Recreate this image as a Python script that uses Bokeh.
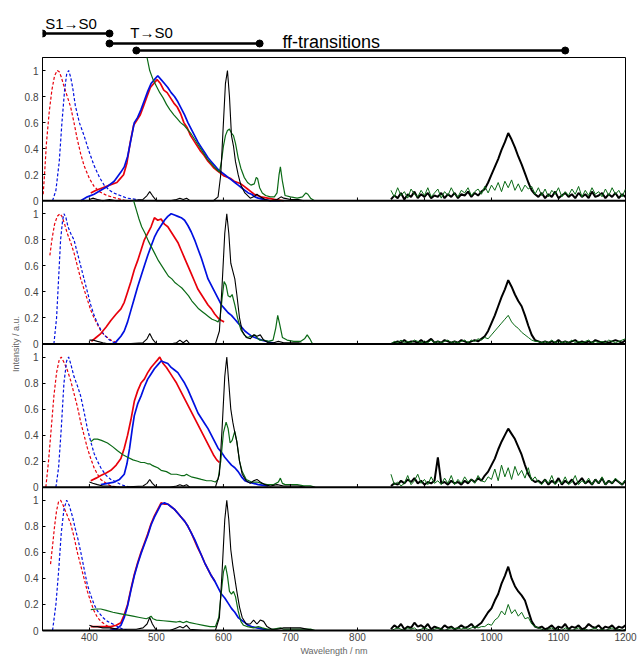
from bokeh.plotting import figure
from bokeh.layouts import column
from bokeh.models import Range1d, FixedTicker
from bokeh.embed import file_html
from bokeh.resources import INLINE

# ---------------- data ----------------
x_ticks = [400, 500, 600, 700, 800, 900, 1000, 1100, 1200]
y_tick_vals = [0, 0.2, 0.4, 0.6, 0.8, 1.0]
y_tick_labels = ["0", "0.2", "0.4", "0.6", "0.8", "1"]

# Panel 1 (top)
p1_rexc_x = [331, 333, 336, 340, 344, 348, 352, 355, 358, 362, 367, 372, 377, 382, 387, 392, 400, 407, 415, 426, 440, 455]
p1_rexc_y = [0.05, 0.2, 0.45, 0.68, 0.85, 0.96, 1.0, 0.99, 0.95, 0.88, 0.8, 0.72, 0.6, 0.47, 0.36, 0.27, 0.17, 0.11, 0.07, 0.04, 0.02, 0.0]
p1_bexc_x = [345, 350, 355, 359, 363, 366, 369, 372, 375, 379, 385, 392, 400, 407, 415, 422, 430, 436, 446, 456, 470, 480]
p1_bexc_y = [0.0, 0.08, 0.3, 0.6, 0.85, 0.97, 1.0, 0.95, 0.87, 0.73, 0.6, 0.5, 0.37, 0.27, 0.18, 0.12, 0.08, 0.06, 0.04, 0.02, 0.01, 0.0]
p1_rem_x = [402, 410, 420, 430, 441, 446, 451, 456, 461, 466, 471, 476, 481, 486, 491, 496, 501, 506, 511, 516, 521, 526, 531, 536, 541, 546, 551, 556, 561, 566, 571, 576, 581, 586, 591, 596, 601, 606, 611, 616, 621, 626, 631, 636, 641, 646, 651, 656, 666, 676, 690]
p1_rem_y = [0.06, 0.08, 0.1, 0.12, 0.14, 0.17, 0.2, 0.29, 0.45, 0.58, 0.62, 0.66, 0.73, 0.8, 0.87, 0.9, 0.93, 0.9, 0.85, 0.83, 0.79, 0.75, 0.72, 0.67, 0.6, 0.56, 0.5, 0.46, 0.42, 0.38, 0.35, 0.31, 0.28, 0.25, 0.23, 0.21, 0.19, 0.18, 0.17, 0.15, 0.14, 0.13, 0.11, 0.09, 0.07, 0.05, 0.04, 0.03, 0.02, 0.01, 0.0]
p1_bem_x = [387, 397, 407, 417, 427, 437, 447, 452, 457, 462, 467, 472, 477, 482, 487, 492, 497, 502, 507, 512, 517, 522, 527, 532, 537, 542, 547, 552, 557, 562, 567, 572, 577, 582, 587, 592, 597, 602, 607, 612, 617, 622, 627, 632, 637, 642, 647, 652, 660, 670, 685]
p1_bem_y = [0.0, 0.03, 0.05, 0.08, 0.11, 0.15, 0.22, 0.26, 0.34, 0.47, 0.6, 0.64, 0.7, 0.77, 0.84, 0.9, 0.93, 0.96, 0.93, 0.9, 0.87, 0.83, 0.8, 0.76, 0.71, 0.66, 0.6, 0.55, 0.5, 0.45, 0.41, 0.37, 0.33, 0.3, 0.27, 0.24, 0.22, 0.2, 0.18, 0.16, 0.14, 0.12, 0.1, 0.08, 0.06, 0.05, 0.03, 0.02, 0.01, 0.0, 0.0]
p1_grn_x = [486, 490, 495, 500, 505, 510, 515, 520, 526, 531, 536, 541, 546, 551, 556, 561, 566, 571, 576, 581, 586, 590, 594, 597, 600, 603, 606, 609, 612, 615, 618, 622, 626, 631, 636, 641, 646, 649, 651, 654, 658, 663, 670, 676, 680, 683, 685, 688, 692, 700, 710, 718, 723, 726, 730, 736]
p1_grn_y = [1.1, 1.0, 0.93, 0.88, 0.83, 0.79, 0.74, 0.7, 0.66, 0.63, 0.6, 0.58, 0.55, 0.52, 0.48, 0.44, 0.4, 0.36, 0.32, 0.29, 0.26, 0.24, 0.22, 0.3, 0.42, 0.5, 0.54, 0.55, 0.52, 0.5, 0.44, 0.33, 0.25, 0.18, 0.14, 0.12, 0.13, 0.18, 0.17, 0.1, 0.06, 0.04, 0.03, 0.03, 0.06, 0.2, 0.26, 0.15, 0.04, 0.03, 0.02, 0.03, 0.06, 0.05, 0.02, 0.0]
p1_blk_x = [400, 405, 412, 420, 430, 440, 460, 480, 486, 490, 494, 500, 520, 530, 535, 540, 545, 550, 570, 585, 592, 596, 600, 603, 606, 609, 612, 615, 618, 622, 626, 632, 640, 645, 650, 655, 662, 670, 680, 686, 690, 700, 712, 720]
p1_blk_y = [0.01, 0.02, 0.01, 0.0, 0.01, 0.0, 0.0, 0.01, 0.04, 0.07, 0.04, 0.0, 0.0, 0.01, 0.02, 0.01, 0.02, 0.0, 0.0, 0.0, 0.03, 0.2, 0.6, 0.9, 1.0, 0.8, 0.5, 0.42, 0.3, 0.2, 0.12, 0.06, 0.02, 0.03, 0.05, 0.03, 0.01, 0.0, 0.01, 0.03, 0.02, 0.01, 0.01, 0.0]

# Panel 2
p2_rexc_x = [341, 344, 348, 352, 356, 359, 363, 367, 372, 377, 382, 387, 392, 397, 402, 407, 412, 417, 422, 432, 445]
p2_rexc_y = [0.68, 0.8, 0.92, 0.98, 1.0, 0.98, 0.92, 0.85, 0.78, 0.7, 0.6, 0.5, 0.42, 0.34, 0.26, 0.2, 0.15, 0.1, 0.07, 0.03, 0.0]
p2_bexc_x = [347, 351, 354, 357, 360, 362, 365, 368, 372, 377, 382, 387, 392, 397, 402, 407, 412, 417, 422, 430, 437, 445]
p2_bexc_y = [0.0, 0.2, 0.5, 0.8, 0.95, 1.0, 0.97, 0.9, 0.85, 0.8, 0.7, 0.6, 0.5, 0.4, 0.3, 0.22, 0.16, 0.11, 0.07, 0.03, 0.01, 0.0]
p2_rem_x = [403, 410, 417, 425, 432, 440, 447, 452, 457, 462, 467, 472, 477, 482, 487, 492, 497, 502, 507, 512, 517, 522, 527, 532, 537, 542, 547, 552, 557, 562, 567, 572, 577, 582, 587, 592, 597, 601]
p2_rem_y = [0.02, 0.05, 0.08, 0.13, 0.18, 0.23, 0.27, 0.32, 0.4, 0.48, 0.57, 0.64, 0.72, 0.8, 0.85, 0.9, 0.97, 0.95, 0.96, 0.92, 0.9, 0.86, 0.82, 0.78, 0.72, 0.66, 0.6, 0.54, 0.48, 0.42, 0.38, 0.34, 0.3, 0.27, 0.23, 0.2, 0.18, 0.17]
p2_bem_x = [437, 442, 447, 452, 457, 462, 467, 472, 477, 482, 487, 492, 497, 502, 507, 512, 517, 522, 527, 532, 537, 542, 547, 552, 557, 562, 567, 572, 577, 582, 587, 592, 597, 602, 607, 612, 617, 622, 627, 632, 637, 642, 647, 652, 657, 665, 672, 680]
p2_bem_y = [0.0, 0.03, 0.06, 0.1, 0.17, 0.26, 0.35, 0.44, 0.52, 0.6, 0.68, 0.75, 0.82, 0.87, 0.91, 0.95, 0.98, 1.0, 0.99, 0.98, 0.97, 0.95, 0.91, 0.86, 0.8, 0.73, 0.66, 0.58, 0.5, 0.45, 0.4, 0.35, 0.3, 0.27, 0.24, 0.22, 0.19, 0.16, 0.13, 0.1, 0.08, 0.06, 0.05, 0.04, 0.03, 0.02, 0.01, 0.0]
p2_grn_x = [466, 470, 474, 478, 483, 488, 493, 498, 503, 508, 513, 518, 523, 528, 533, 538, 543, 548, 553, 558, 563, 568, 573, 578, 583, 588, 592, 595, 598, 601, 604, 607, 610, 613, 617, 621, 626, 631, 636, 642, 647, 650, 654, 660, 667, 674, 678, 681, 684, 688, 695, 705, 715, 721, 725, 729, 733]
p2_grn_y = [1.1, 1.03, 0.96, 0.9, 0.85, 0.79, 0.74, 0.69, 0.64, 0.6, 0.56, 0.52, 0.5, 0.47, 0.45, 0.43, 0.4, 0.37, 0.33, 0.3, 0.27, 0.25, 0.23, 0.21, 0.19, 0.18, 0.17, 0.2, 0.35, 0.48, 0.45, 0.37, 0.36, 0.38, 0.3, 0.2, 0.11, 0.07, 0.05, 0.06, 0.07, 0.05, 0.03, 0.03, 0.02, 0.03, 0.12, 0.22, 0.15, 0.05, 0.03, 0.02, 0.02, 0.04, 0.07, 0.04, 0.0]
p2_blk_x = [400, 405, 412, 420, 430, 450, 480, 486, 490, 494, 500, 520, 530, 535, 540, 545, 550, 570, 588, 594, 598, 602, 605, 608, 611, 614, 617, 620, 624, 628, 634, 640, 645, 650, 655, 660, 667, 675, 682, 690, 700, 712, 722]
p2_blk_y = [0.03, 0.03, 0.02, 0.01, 0.0, 0.0, 0.01, 0.04, 0.08, 0.04, 0.0, 0.0, 0.01, 0.03, 0.01, 0.03, 0.0, 0.0, 0.0, 0.1, 0.45, 0.85, 1.0, 0.85, 0.62, 0.56, 0.5, 0.38, 0.2, 0.1, 0.05, 0.04, 0.07, 0.06, 0.07, 0.03, 0.01, 0.01, 0.02, 0.01, 0.01, 0.01, 0.0]

# Panel 3
p3_rexc_x = [335, 339, 343, 347, 351, 355, 358, 362, 367, 372, 377, 382, 387, 392, 397, 402, 407, 412, 417, 425, 432, 445]
p3_rexc_y = [0.0, 0.2, 0.45, 0.7, 0.88, 0.98, 1.0, 0.96, 0.9, 0.82, 0.72, 0.62, 0.5, 0.4, 0.3, 0.22, 0.15, 0.1, 0.06, 0.03, 0.01, 0.0]
p3_bexc_x = [350, 354, 358, 362, 366, 369, 372, 377, 382, 387, 392, 397, 402, 407, 412, 417, 425, 432, 440, 447, 460]
p3_bexc_y = [0.0, 0.15, 0.45, 0.8, 0.97, 1.0, 0.95, 0.85, 0.78, 0.7, 0.58, 0.45, 0.35, 0.26, 0.2, 0.15, 0.09, 0.06, 0.04, 0.02, 0.0]
p3_rem_x = [402, 410, 417, 425, 432, 440, 447, 452, 457, 462, 467, 472, 477, 482, 487, 492, 497, 502, 505, 510, 515, 520, 525, 530, 535, 540, 545, 550, 555, 560, 565, 570, 575, 580, 585, 590, 594]
p3_rem_y = [0.05, 0.07, 0.09, 0.11, 0.13, 0.17, 0.22, 0.3, 0.4, 0.52, 0.66, 0.74, 0.8, 0.83, 0.88, 0.92, 0.95, 0.98, 1.0, 0.95, 0.92, 0.88, 0.84, 0.8, 0.75, 0.7, 0.65, 0.6, 0.55, 0.5, 0.45, 0.4, 0.35, 0.3, 0.25, 0.21, 0.19]
p3_bem_x = [417, 427, 437, 445, 452, 456, 460, 464, 467, 472, 477, 482, 487, 492, 497, 502, 507, 512, 517, 522, 527, 532, 537, 542, 547, 552, 557, 562, 567, 572, 577, 582, 587, 592, 597, 602, 607, 612, 617, 622, 627, 632, 637, 645, 652, 667]
p3_bem_y = [0.02, 0.03, 0.04, 0.06, 0.1, 0.18, 0.3, 0.45, 0.55, 0.64, 0.7, 0.77, 0.83, 0.87, 0.91, 0.94, 0.97, 0.96, 0.95, 0.92, 0.9, 0.88, 0.84, 0.8, 0.75, 0.69, 0.63, 0.57, 0.53, 0.49, 0.45, 0.4, 0.35, 0.3, 0.27, 0.23, 0.2, 0.17, 0.15, 0.12, 0.08, 0.05, 0.04, 0.03, 0.02, 0.01]
p3_grn_x = [402, 407, 412, 418, 427, 435, 442, 450, 457, 465, 472, 477, 482, 487, 490, 493, 497, 502, 507, 515, 522, 530, 537, 542, 545, 548, 552, 560, 567, 575, 582, 588, 592, 596, 600, 604, 607, 610, 613, 617, 620, 624, 628, 634, 642, 650, 657, 665, 675, 682, 685, 688, 692, 700, 710, 720, 730, 737]
p3_grn_y = [0.35, 0.37, 0.37, 0.36, 0.34, 0.31, 0.28, 0.25, 0.23, 0.21, 0.2, 0.19, 0.19, 0.18, 0.18, 0.17, 0.16, 0.15, 0.13, 0.12, 0.1, 0.1, 0.09, 0.09, 0.1, 0.09, 0.08, 0.07, 0.06, 0.05, 0.05, 0.04, 0.06, 0.2, 0.42, 0.5, 0.45, 0.34, 0.36, 0.43, 0.35, 0.2, 0.12, 0.06, 0.04, 0.04, 0.03, 0.02, 0.02, 0.04, 0.07, 0.03, 0.02, 0.02, 0.02, 0.01, 0.01, 0.0]
p3_blk_x = [400, 405, 412, 420, 430, 445, 480, 486, 490, 494, 500, 520, 530, 535, 540, 545, 550, 570, 588, 594, 598, 602, 605, 608, 611, 614, 617, 620, 624, 628, 634, 640, 645, 650, 655, 662, 670, 680, 690, 700, 712, 722]
p3_blk_y = [0.04, 0.03, 0.02, 0.01, 0.01, 0.0, 0.01, 0.03, 0.06, 0.03, 0.0, 0.0, 0.01, 0.02, 0.01, 0.02, 0.0, 0.0, 0.0, 0.1, 0.45, 0.85, 1.0, 0.8, 0.6, 0.5, 0.42, 0.35, 0.2, 0.1, 0.05, 0.03, 0.05, 0.06, 0.04, 0.02, 0.01, 0.02, 0.01, 0.01, 0.01, 0.0]

# Panel 4 (bottom)
p4_rexc_x = [342, 345, 348, 351, 354, 357, 360, 364, 368, 372, 377, 382, 387, 392, 397, 402, 407, 412, 417, 425, 432, 445]
p4_rexc_y = [0.51, 0.65, 0.8, 0.92, 0.99, 1.0, 0.97, 0.92, 0.87, 0.82, 0.72, 0.6, 0.5, 0.4, 0.3, 0.22, 0.15, 0.1, 0.07, 0.04, 0.02, 0.0]
p4_bexc_x = [345, 350, 354, 358, 362, 366, 370, 375, 379, 383, 388, 393, 397, 402, 407, 412, 420, 427, 435, 442, 450, 457]
p4_bexc_y = [0.0, 0.2, 0.45, 0.75, 0.93, 1.0, 0.96, 0.87, 0.78, 0.7, 0.58, 0.45, 0.35, 0.27, 0.2, 0.15, 0.1, 0.07, 0.05, 0.03, 0.01, 0.0]
p4_rem_x = [402, 410, 420, 432, 440, 447, 452, 457, 462, 467, 472, 477, 482, 487, 492, 497, 502, 507, 512, 517, 522, 527, 532, 537, 542, 547, 552, 557, 562, 567, 572, 577, 582, 587]
p4_rem_y = [0.03, 0.03, 0.03, 0.03, 0.04, 0.06, 0.12, 0.2, 0.32, 0.43, 0.52, 0.6, 0.67, 0.74, 0.82, 0.88, 0.93, 0.98, 0.97, 0.97, 0.95, 0.93, 0.9, 0.87, 0.84, 0.8, 0.75, 0.69, 0.63, 0.58, 0.52, 0.47, 0.42, 0.38]
p4_bem_x = [430, 440, 447, 452, 457, 462, 467, 472, 477, 482, 487, 492, 497, 502, 507, 512, 517, 522, 527, 532, 537, 542, 547, 552, 557, 562, 567, 572, 577, 582, 587, 592, 597, 602, 607, 612, 617, 622, 627, 632, 637, 642, 650, 660, 670]
p4_bem_y = [0.0, 0.01, 0.04, 0.1, 0.19, 0.31, 0.42, 0.51, 0.59, 0.66, 0.73, 0.81, 0.87, 0.92, 0.97, 0.98, 0.97, 0.95, 0.93, 0.9, 0.87, 0.84, 0.8, 0.75, 0.7, 0.64, 0.58, 0.52, 0.47, 0.42, 0.38, 0.33, 0.28, 0.25, 0.21, 0.17, 0.14, 0.1, 0.08, 0.06, 0.04, 0.03, 0.02, 0.01, 0.0]
p4_grn_x = [402, 410, 417, 425, 435, 445, 455, 465, 475, 485, 489, 492, 495, 500, 510, 520, 530, 535, 540, 545, 550, 560, 570, 580, 588, 593, 597, 600, 603, 606, 609, 612, 615, 618, 622, 626, 630, 636, 645, 652, 658, 665, 675, 685, 690, 700, 715, 730, 737]
p4_grn_y = [0.16, 0.165, 0.165, 0.155, 0.14, 0.13, 0.12, 0.11, 0.1, 0.09, 0.1, 0.11, 0.09, 0.08, 0.075, 0.07, 0.065, 0.07, 0.06, 0.07, 0.06, 0.05, 0.04, 0.03, 0.03, 0.1, 0.3, 0.45, 0.5, 0.42, 0.3, 0.28, 0.3, 0.26, 0.15, 0.07, 0.04, 0.03, 0.02, 0.03, 0.02, 0.01, 0.01, 0.02, 0.01, 0.01, 0.01, 0.01, 0.0]
p4_blk_x = [400, 405, 412, 420, 430, 445, 470, 480, 486, 490, 494, 500, 520, 530, 535, 540, 545, 550, 570, 588, 594, 598, 602, 605, 608, 611, 614, 617, 620, 624, 628, 634, 640, 645, 650, 655, 660, 665, 672, 680, 690, 700, 715, 735]
p4_blk_y = [0.04, 0.03, 0.03, 0.02, 0.02, 0.01, 0.01, 0.02, 0.05, 0.1, 0.05, 0.0, 0.0, 0.02, 0.03, 0.02, 0.04, 0.01, 0.0, 0.0, 0.1, 0.45, 0.85, 1.0, 0.85, 0.62, 0.5, 0.4, 0.3, 0.18, 0.1, 0.05, 0.05, 0.08, 0.05, 0.08, 0.07, 0.03, 0.01, 0.01, 0.02, 0.02, 0.02, 0.0]

# NIR region (850-1200 nm, 5 nm steps)
nir_x = list(range(850, 1201, 5))
p1_nir_blk = [0.01, 0.04, 0.02, 0.06, 0.01, 0.05, 0.03, 0.07, 0.02, 0.05, 0.03, 0.06, 0.02, 0.04, 0.03, 0.06, 0.02, 0.05, 0.03, 0.06, 0.02, 0.05, 0.04, 0.07, 0.03, 0.06, 0.04, 0.07,
              0.09, 0.14, 0.2, 0.26, 0.32, 0.39, 0.45, 0.52, 0.47, 0.41, 0.34, 0.28, 0.21, 0.14, 0.08, 0.05, 0.03,
              0.06, 0.02, 0.05, 0.03, 0.07, 0.02, 0.04, 0.06, 0.03, 0.05, 0.02, 0.06, 0.03, 0.05, 0.02, 0.07, 0.03, 0.04, 0.06, 0.02, 0.05, 0.03, 0.06, 0.02, 0.05, 0.03]
p1_nir_grn = [0.08, 0.03, 0.1, 0.04, 0.07, 0.02, 0.09, 0.05, 0.03, 0.08, 0.04, 0.1, 0.03, 0.06, 0.09, 0.02, 0.07, 0.04, 0.1, 0.05, 0.03, 0.08, 0.06, 0.1, 0.04, 0.07, 0.09, 0.05,
              0.11, 0.06, 0.12, 0.08, 0.14, 0.07, 0.15, 0.1, 0.16, 0.08, 0.13, 0.07, 0.12, 0.09, 0.11, 0.05, 0.1,
              0.04, 0.09, 0.03, 0.08, 0.05, 0.1, 0.03, 0.07, 0.04, 0.09, 0.05, 0.11, 0.03, 0.08, 0.04, 0.1, 0.05, 0.07, 0.03, 0.09, 0.04, 0.1, 0.05, 0.08, 0.03, 0.09]
p2_nir_blk = [0.0, 0.01, 0.02, 0.01, 0.03, 0.01, 0.02, 0.02, 0.01, 0.03, 0.01, 0.02, 0.04, 0.01, 0.02, 0.01, 0.03, 0.02, 0.01, 0.02, 0.01, 0.03, 0.02, 0.01, 0.02, 0.03, 0.02, 0.04,
              0.06, 0.1, 0.16, 0.22, 0.29, 0.36, 0.42, 0.49, 0.44, 0.38, 0.33, 0.29, 0.22, 0.14, 0.07, 0.03, 0.02,
              0.01, 0.02, 0.01, 0.02, 0.01, 0.03, 0.01, 0.02, 0.01, 0.02, 0.03, 0.01, 0.02, 0.01, 0.02, 0.01, 0.03, 0.02, 0.01, 0.02, 0.01, 0.02, 0.03, 0.02, 0.01, 0.03]
p2_nir_grn = [0.0, 0.02, 0.01, 0.03, 0.01, 0.02, 0.01, 0.03, 0.02, 0.01, 0.02, 0.01, 0.03, 0.01, 0.02, 0.01, 0.02, 0.03, 0.01, 0.02, 0.01, 0.02, 0.03, 0.01, 0.03, 0.02, 0.04, 0.03,
              0.05, 0.04, 0.07, 0.1, 0.13, 0.16, 0.19, 0.22, 0.17, 0.14, 0.12, 0.09, 0.07, 0.05, 0.03, 0.02, 0.02,
              0.01, 0.02, 0.01, 0.03, 0.01, 0.02, 0.01, 0.02, 0.01, 0.03, 0.01, 0.02, 0.01, 0.02, 0.03, 0.01, 0.02, 0.01, 0.02, 0.01, 0.03, 0.02, 0.01, 0.02, 0.03, 0.04]
p3_nir_blk = [0.01, 0.03, 0.02, 0.05, 0.03, 0.06, 0.04, 0.07, 0.03, 0.05, 0.02, 0.04, 0.03, 0.05, 0.23, 0.03, 0.04, 0.02, 0.05, 0.03, 0.04, 0.02, 0.05, 0.03, 0.06, 0.04, 0.07, 0.05,
              0.09, 0.12, 0.17, 0.22, 0.29, 0.35, 0.4, 0.45, 0.41, 0.37, 0.31, 0.25, 0.17, 0.1, 0.06, 0.04, 0.05,
              0.03, 0.06, 0.02, 0.05, 0.03, 0.07, 0.02, 0.05, 0.03, 0.06, 0.02, 0.04, 0.07, 0.03, 0.05, 0.02, 0.06, 0.03, 0.07, 0.02, 0.05, 0.03, 0.06, 0.04, 0.02, 0.05]
p3_nir_grn = [0.1, 0.02, 0.04, 0.01, 0.03, 0.09, 0.02, 0.05, 0.1, 0.03, 0.06, 0.02, 0.08, 0.03, 0.05, 0.02, 0.07, 0.03, 0.09, 0.02, 0.06, 0.03, 0.08, 0.04, 0.06, 0.03, 0.09, 0.05,
              0.04, 0.08, 0.06, 0.14, 0.05, 0.17, 0.08, 0.15, 0.06, 0.16, 0.09, 0.13, 0.07, 0.15, 0.05, 0.08, 0.04,
              0.02, 0.06, 0.03, 0.09, 0.02, 0.05, 0.03, 0.08, 0.02, 0.04, 0.09, 0.02, 0.05, 0.03, 0.07, 0.02, 0.06, 0.03, 0.08, 0.02, 0.05, 0.03, 0.07, 0.04, 0.02, 0.06]
p4_nir_blk = [0.01, 0.04, 0.02, 0.05, 0.01, 0.03, 0.02, 0.06, 0.03, 0.04, 0.02, 0.05, 0.01, 0.03, 0.02, 0.01, 0.04, 0.02, 0.03, 0.01, 0.02, 0.04, 0.02, 0.03, 0.05, 0.02, 0.04, 0.06,
              0.1, 0.14, 0.17, 0.23, 0.28, 0.36, 0.42, 0.49, 0.4, 0.34, 0.3, 0.27, 0.23, 0.15, 0.07, 0.03, 0.02,
              0.03, 0.01, 0.02, 0.04, 0.01, 0.03, 0.02, 0.05, 0.01, 0.03, 0.02, 0.04, 0.01, 0.02, 0.05, 0.03, 0.02, 0.04, 0.01, 0.03, 0.02, 0.04, 0.01, 0.03, 0.02, 0.04]
p4_nir_grn = [0.0, 0.01, 0.02, 0.01, 0.0, 0.02, 0.01, 0.02, 0.0, 0.01, 0.02, 0.01, 0.0, 0.01, 0.02, 0.01, 0.0, 0.01, 0.02, 0.01, 0.02, 0.01, 0.02, 0.01, 0.02, 0.03, 0.02, 0.03,
              0.03, 0.05, 0.04, 0.08, 0.1, 0.15, 0.12, 0.2, 0.13, 0.16, 0.11, 0.14, 0.09, 0.1, 0.05, 0.03, 0.02,
              0.01, 0.0, 0.01, 0.02, 0.0, 0.01, 0.0, 0.02, 0.01, 0.0, 0.01, 0.02, 0.0, 0.01, 0.0, 0.01, 0.02, 0.0, 0.01, 0.0, 0.01, 0.02, 0.0, 0.01, 0.0, 0.01]

# Top annotation ranges (nm)
ann_labels = ["S1→S0", "T→S0", "ff-transitions"]
ann_start = [330, 430, 470]
ann_end = [430, 654, 1110]

# ---------------- styling ----------------
RED = "#e8000b"
BLUE = "#0010e0"
GREEN = "#0b6a16"
BLACK = "#000000"
STEP = 1.1
FONT = "Liberation Sans"

xr = Range1d(330, 1200)

p = figure(width=637, height=603, x_range=xr, y_range=Range1d(0, 4 * STEP),
           output_backend="svg", toolbar_location=None,
           min_border_left=42, min_border_right=12, min_border_top=2, min_border_bottom=24)
p.grid.visible = False
p.outline_line_color = "black"
p.outline_line_width = 1
p.background_fill_color = "white"

panels = [
    (p1_rexc_x, p1_rexc_y, p1_bexc_x, p1_bexc_y, p1_rem_x, p1_rem_y, p1_bem_x, p1_bem_y, p1_grn_x, p1_grn_y, p1_blk_x, p1_blk_y, p1_nir_blk, p1_nir_grn),
    (p2_rexc_x, p2_rexc_y, p2_bexc_x, p2_bexc_y, p2_rem_x, p2_rem_y, p2_bem_x, p2_bem_y, p2_grn_x, p2_grn_y, p2_blk_x, p2_blk_y, p2_nir_blk, p2_nir_grn),
    (p3_rexc_x, p3_rexc_y, p3_bexc_x, p3_bexc_y, p3_rem_x, p3_rem_y, p3_bem_x, p3_bem_y, p3_grn_x, p3_grn_y, p3_blk_x, p3_blk_y, p3_nir_blk, p3_nir_grn),
    (p4_rexc_x, p4_rexc_y, p4_bexc_x, p4_bexc_y, p4_rem_x, p4_rem_y, p4_bem_x, p4_bem_y, p4_grn_x, p4_grn_y, p4_blk_x, p4_blk_y, p4_nir_blk, p4_nir_grn),
]

yt = []
overrides = {}
for k, d in enumerate(panels):
    off = (3 - k) * STEP
    (rx, ry, bx, by, rex, rey, bex, bey, gx, gy, kx, ky, nb, ng) = d
    sh = lambda ys: [v + off for v in ys]
    p.line(rx, sh(ry), line_color=RED, line_width=1.2, line_dash="3 2")
    p.line(bx, sh(by), line_color=BLUE, line_width=1.2, line_dash="3 2")
    p.line(rex, sh(rey), line_color=RED, line_width=1.7)
    p.line(bex, sh(bey), line_color=BLUE, line_width=1.7)
    p.line(gx, sh(gy), line_color=GREEN, line_width=1.2)
    p.line(kx, sh(ky), line_color=BLACK, line_width=1.1)
    p.line(nir_x, sh(nb), line_color=BLACK, line_width=2.0)
    p.line(nir_x, sh(ng), line_color=GREEN, line_width=1.0)
    if k < 3:
        p.line([330, 1200], [off, off], line_color="black", line_width=2.2)
        p.segment(x0=x_ticks[:-1], y0=[off] * 8, x1=x_ticks[:-1], y1=[off + 0.025] * 8,
                  line_color="black", line_width=1)
    for v, lab in zip(y_tick_vals, y_tick_labels):
        t = round(off + v, 4)
        yt.append(t)
        overrides[t] = lab

p.yaxis.ticker = FixedTicker(ticks=yt)
p.yaxis.major_label_overrides = overrides
p.yaxis.major_tick_in = 3
p.yaxis.major_tick_out = 0
p.yaxis.minor_tick_line_color = None
p.yaxis.major_label_text_font = FONT
p.yaxis.major_label_text_font_size = "10px"
p.yaxis.major_label_text_color = "#444444"
p.yaxis.major_label_standoff = 4
p.yaxis.axis_label = "Intensity / a.u."
p.yaxis.axis_label_text_font = FONT
p.yaxis.axis_label_text_font_size = "9px"
p.yaxis.axis_label_text_font_style = "normal"
p.yaxis.axis_label_text_color = "#666666"
p.yaxis.axis_label_standoff = 1

p.xaxis.ticker = FixedTicker(ticks=x_ticks)
p.xaxis.major_tick_in = 3
p.xaxis.major_tick_out = 0
p.xaxis.minor_tick_line_color = None
p.xaxis.axis_line_width = 2
p.xaxis.major_label_text_font = FONT
p.xaxis.major_label_text_font_size = "10px"
p.xaxis.major_label_text_color = "#444444"
p.xaxis.major_label_standoff = 2
p.xaxis.axis_label = "Wavelength / nm"
p.xaxis.axis_label_text_font = FONT
p.xaxis.axis_label_text_font_size = "9px"
p.xaxis.axis_label_text_font_style = "normal"
p.xaxis.axis_label_text_color = "#666666"
p.xaxis.axis_label_text_align = "right"
p.xaxis.axis_label_standoff = 2

# ---------------- top annotation strip ----------------
a = figure(width=637, height=55, x_range=xr, y_range=Range1d(0, 55),
           output_backend="svg", toolbar_location=None,
           min_border_left=42, min_border_right=12, min_border_top=0, min_border_bottom=0)
a.axis.visible = False
a.grid.visible = False
a.outline_line_color = None
bar_y = [22, 12, 5]
txt_x = [334, 461, 688]
txt_y = [32, 23, 14]
txt_size = ["15px", "15px", "18px"]
for i in range(3):
    a.line([ann_start[i], ann_end[i]], [bar_y[i], bar_y[i]], line_color="black", line_width=2.5)
    a.scatter([ann_start[i], ann_end[i]], [bar_y[i], bar_y[i]], size=7, color="black")
    a.text(x=[txt_x[i]], y=[txt_y[i]], text=[ann_labels[i]], text_font_size=txt_size[i],
           text_baseline="alphabetic", text_align="left", text_color="black",
           text_font={"value": FONT})

layout = column(a, p, spacing=0)
open("out.html", "w").write(file_html(layout, INLINE))
